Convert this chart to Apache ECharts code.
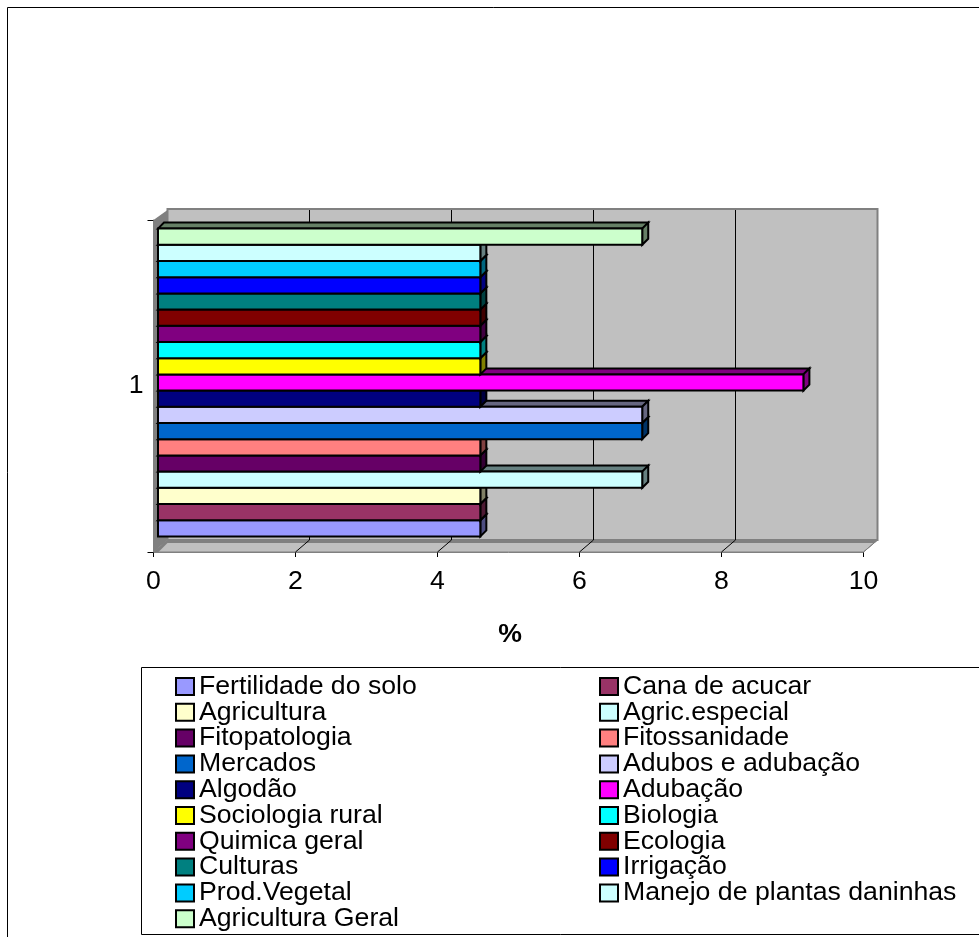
<!DOCTYPE html>
<html><head><meta charset="utf-8">
<style>html,body{margin:0;padding:0;background:#fff}#c{width:979px;height:937px}</style>
<script src="https://cdn.jsdelivr.net/npm/echarts@6/dist/echarts.min.js"></script>
</head><body><div id="c"></div>
<script>
const names = ["Fertilidade do solo","Cana de acucar","Agricultura","Agric.especial","Fitopatologia","Fitossanidade","Mercados","Adubos e adubação","Algodão","Adubação","Sociologia rural","Biologia","Quimica geral","Ecologia","Culturas","Irrigação","Prod.Vegetal","Manejo de plantas daninhas","Agricultura Geral"];
const values = [4.54,4.54,4.54,6.82,4.54,4.54,6.82,6.82,4.54,9.09,4.54,4.54,4.54,4.54,4.54,4.54,4.54,4.54,6.82];
const colors = ["#9999FF","#993366","#FFFFCC","#CCFFFF","#660066","#FF8080","#0066CC","#CCCCFF","#000080","#FF00FF","#FFFF00","#00FFFF","#800080","#800000","#008080","#0000FF","#00CCFF","#CCFFFF","#CCFFCC"];
const categories = ["1"];
const ticks = [0,2,4,6,8,10];

const FONT = "Liberation Sans";
const FS = 26.67;
const DX = 14, DY = 12;            // depth of the chart box
const BX = 4.5, BY = 3.5, SX = 6, SY = 6; // bar offset and bar depth

function dark(hex){
  const n = parseInt(hex.slice(1),16);
  const f = v => Math.round(v*0.5).toString(16).padStart(2,'0');
  return '#'+f(n>>16&255)+f(n>>8&255)+f(n&255);
}
function poly(points, fill, stroke, lw){
  return {type:'polygon', shape:{points}, style:{fill, stroke, lineWidth:lw||0}};
}
function line(a,b,stroke,lw){
  return {type:'line', shape:{x1:a[0],y1:a[1],x2:b[0],y2:b[1]}, style:{stroke, lineWidth:lw||1}};
}
const wallSeries = {
  type:'custom', name:'walls', silent:true, z:1,
  data: ticks.map(t=>[t,0]),
  encode:{x:0,y:1},
  renderItem(params, api){
    const t = api.value(0);
    const c = api.coord([t,0]);
    const size = api.size([0,1])[1];
    const bot = c[1]+size/2, top = c[1]-size/2;
    const kids = [];
    if(t===0){
      const x0=c[0], x1=api.coord([10,0])[0];
      kids.push(poly([[x0,top],[x0+DX,top-DY+2],[x0+DX,bot-DY],[x0,bot]],'#808080'));
      kids.push(poly([[x0+DX,top-DY+1],[x1+DX,top-DY+1],[x1+DX,bot-DY],[x0+DX,bot-DY]],'#C0C0C0','#808080',2));
      kids.push(poly([[x0,bot],[x0+DX,bot-DY],[x1+DX,bot-DY],[x1,bot]],'#C0C0C0','#808080',1));
      kids.push(poly([[x0+DX,bot-DY],[x1+DX,bot-DY],[x1+DX-3,bot-DY+3],[x0+DX-3,bot-DY+3]],'#808080'));
      kids.push(poly([[x0,bot],[x0+DX,bot-DY],[x0+DX,bot-DY+3],[x0+5,bot]],'#808080'));
    }
    if(t>0 && t<10){
      kids.push(line([c[0]+DX,top-DY+2],[c[0]+DX,bot-DY],'#000',1));
    }
    if(t>0){
      kids.push(line([c[0],bot],[c[0]+DX,bot-DY],t<10?'#000':'#808080',1));
    }
    return {type:'group',children:kids};
  }
};
const barSeries = names.map((name,i)=>({
  type:'custom', name, z:2,
  itemStyle:{color:colors[i]},
  data:[[values[i],0]],
  encode:{x:0,y:1},
  renderItem(params, api){
    const end = api.coord([api.value(0),0]);
    const start = api.coord([0,0]);
    const band = api.size([0,1])[1];
    const h = band*0.0488;
    const yBottom = end[1]-BY + h*names.length/2 - h*i;
    const yTop = yBottom-h;
    const x0 = start[0]+BX, x1 = end[0]+BX;
    const d = dark(colors[i]);
    return {type:'group',children:[
      poly([[x0,yTop],[x0+SX,yTop-SY],[x1+SX,yTop-SY],[x1,yTop]],d,'#000',2),
      poly([[x1,yTop],[x1+SX,yTop-SY],[x1+SX,yBottom-SY],[x1,yBottom]],d,'#000',2),
      {type:'rect',shape:{x:x0,y:yTop,width:x1-x0,height:h},style:{fill:colors[i],stroke:'#000',lineWidth:2}}
    ]};
  }
}));
const legendBase = {
  orient:'vertical', padding:0, itemGap:-1.2, height:300, itemWidth:18, itemHeight:17, icon:'rect',
  selectedMode:false,
  itemStyle:{borderColor:'#000',borderWidth:2},
  textStyle:{fontFamily:FONT,fontSize:FS,color:'#000',lineHeight:25}
};
const chart = echarts.init(document.getElementById('c'),null,{renderer:'canvas'});
chart.setOption({
  animation:false,
  backgroundColor:'#fff',
  textStyle:{fontFamily:FONT},
  grid:{left:153.5,top:220,width:710,height:332,containLabel:false},
  xAxis:{type:'value',min:0,max:10,interval:2,
    axisLine:{show:true,lineStyle:{color:'#808080',width:1}},
    axisTick:{show:true,length:5,lineStyle:{color:'#000'}},
    splitLine:{show:false},
    axisLabel:{fontFamily:FONT,fontSize:FS,color:'#000',margin:16},
    name:'%',nameLocation:'middle',nameGap:69,
    nameTextStyle:{fontFamily:FONT,fontSize:FS,fontWeight:'bold',color:'#000',padding:[0,0,0,3]}
  },
  yAxis:{type:'category',data:categories,
    axisLine:{show:true,lineStyle:{color:'#808080',width:1}},
    axisTick:{show:true,length:6,lineStyle:{color:'#000'}},
    axisLabel:{fontFamily:FONT,fontSize:FS,color:'#000',margin:10}
  },
  legend:[
    Object.assign({},legendBase,{left:175,top:673,data:names.filter((_,i)=>i%2===0)}),
    Object.assign({},legendBase,{left:599,top:673,data:names.filter((_,i)=>i%2===1)})
  ],
  graphic:[
    {type:'rect',z:-1,shape:{x:7.5,y:7.5,width:1000,height:1000},style:{fill:'#fff',stroke:'#000',lineWidth:1}},
    {type:'rect',z:-1,shape:{x:141.5,y:667.5,width:900,height:267},style:{fill:'#fff',stroke:'#000',lineWidth:1}}
  ],
  series:[wallSeries].concat(barSeries)
});
</script></body></html>
